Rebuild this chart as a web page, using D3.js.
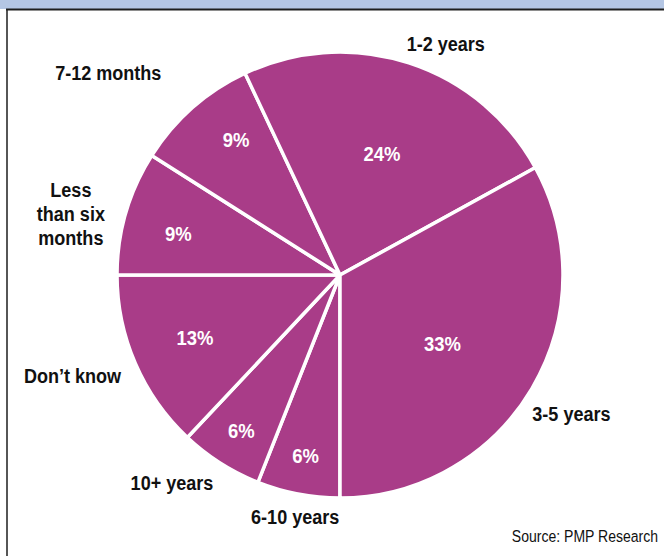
<!DOCTYPE html>
<html>
<head>
<meta charset="utf-8">
<script src="https://cdn.jsdelivr.net/npm/d3@7/dist/d3.min.js"></script>
<style>
  html, body { margin: 0; padding: 0; background: #fff; }
  svg { display: block; }
  .cond { font-family: "Liberation Sans", Arial, Helvetica, sans-serif; }
</style>
</head>
<body>
<svg id="chart" width="664" height="556"></svg>
<script>
// Survey answers, clockwise from six o'clock
const categories = ["6-10 years", "10+ years", "Don\u2019t know", "Less than six months", "7-12 months", "1-2 years", "3-5 years"];
const shares = [6, 6, 13, 9, 9, 24, 33];
// Category label lines as printed beside the pie
const labelLines = [["6-10 years"], ["10+ years"], ["Don\u2019t know"], ["Less", "than six", "months"], ["7-12 months"], ["1-2 years"], ["3-5 years"]];
const sourceNote = "Source: PMP Research";

// Layout
const W = 664, H = 556;
const cx = 340, cy = 275, R = 223;
const sliceColor = "#a93c88";
const narrow = 0.88; // horizontal squeeze giving a condensed look to the type
// percentage placement inside each slice: distance from centre and angular nudge (degrees)
const pctRadius = [184, 184, 158, 167, 171, 129, 123];
const pctNudge = [0, 0, 0, -1.7, 4, 1, 3];
// callout placement [angle in degrees clockwise from 12 o'clock, distance from centre]
const calloutPolar = [[190.5, 246], [219, 267], [249.3, 286], [282.8, 276], [311.2, 308], [24.6, 254], [121, 270]];

const data = categories.map((c, i) => ({
  cat: c, value: shares[i], lines: labelLines[i],
  pr: pctRadius[i], pn: pctNudge[i], callout: calloutPolar[i]
}));

const svg = d3.select("#chart");

// header band and frame
svg.append("rect").attr("x", 0).attr("y", 0).attr("width", W).attr("height", 9).attr("fill", "#b4c6e4");
svg.append("line").attr("x1", 6).attr("x2", W).attr("y1", 9.5).attr("y2", 9.5).attr("stroke", "#1e1e1e").attr("stroke-width", 2);
svg.append("line").attr("x1", 7).attr("x2", 7).attr("y1", 9).attr("y2", H).attr("stroke", "#1e1e1e").attr("stroke-width", 1.5);

const pie = d3.pie().value(d => d.value).sort(null).startAngle(Math.PI).endAngle(3 * Math.PI);
const arcs = pie(data);
const arc = d3.arc().innerRadius(0).outerRadius(R);

const g = svg.append("g").attr("transform", `translate(${cx},${cy})`);

g.selectAll("path.slice")
  .data(arcs)
  .join("path")
  .attr("class", "slice")
  .attr("d", arc)
  .attr("fill", sliceColor)
  .attr("stroke", "#fff")
  .attr("stroke-width", 3.5)
  .attr("stroke-linejoin", "miter");

// percentage labels inside slices
g.selectAll("text.pct")
  .data(arcs)
  .join("text")
  .attr("class", "pct cond")
  .attr("transform", d => {
    const a = (d.startAngle + d.endAngle) / 2 + d.data.pn * Math.PI / 180;
    const x = d.data.pr * Math.sin(a), y = -d.data.pr * Math.cos(a);
    return `translate(${x},${y}) scale(${narrow},1)`;
  })
  .attr("text-anchor", "middle")
  .attr("dy", "0.36em")
  .attr("fill", "#fff")
  .attr("font-weight", "bold")
  .attr("font-size", 21)
  .text(d => d.data.value + "%");

// category callouts
const callouts = g.selectAll("text.cat")
  .data(arcs)
  .join("text")
  .attr("class", "cat cond")
  .attr("text-anchor", "middle")
  .attr("fill", "#111")
  .attr("font-weight", "bold")
  .attr("font-size", 20.5)
  .attr("transform", d => {
    const a = d.data.callout[0] * Math.PI / 180, r = d.data.callout[1];
    return `translate(${r * Math.sin(a)},${-r * Math.cos(a)}) scale(${narrow},1)`;
  });

callouts.selectAll("tspan")
  .data(d => d.data.lines.map((t, i, arr) => ({ t, i, n: arr.length })))
  .join("tspan")
  .attr("x", 0)
  .attr("y", d => (d.i - (d.n - 1) / 2) * 24)
  .attr("dy", "0.36em")
  .text(d => d.t);

svg.append("text")
  .attr("class", "cond")
  .attr("transform", `translate(658,542) scale(0.85,1)`)
  .attr("text-anchor", "end")
  .attr("font-size", 16.5)
  .attr("fill", "#111")
  .text(sourceNote);
</script>
</body>
</html>
